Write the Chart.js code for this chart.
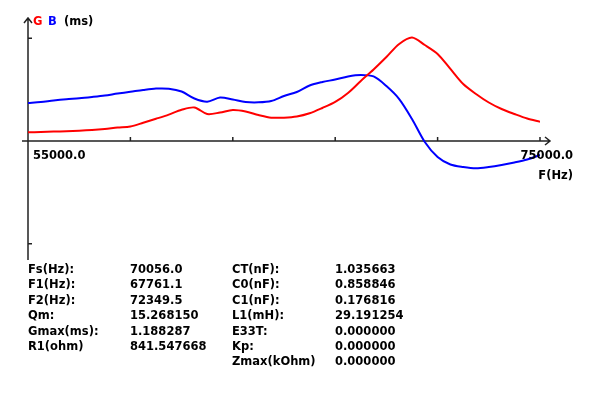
<!DOCTYPE html>
<html>
<head>
    <title>G B admittance sweep</title>
    <script src="https://cdn.jsdelivr.net/npm/chart.js"></script>
    <style>
        body {
            background-color: white;
            margin: 0;
        }
        canvas {
            display: block;
        }
    </style>
</head>
<body>
    <canvas id="gbChart" width="592" height="398"></canvas>

    <script>
        // frequency points (Hz)
        const freqs = [
            55000, 55500, 56000, 56500, 57000, 57500, 58000, 58500, 59000, 59500,
            60000, 60500, 61000, 61500, 62000, 62500, 63000, 63500, 64000, 64500,
            65000, 65500, 66000, 66500, 67000, 67500, 68000, 68500, 69000, 69500,
            70000, 70500, 71000, 71500, 72000, 72500, 73000, 73500, 74000, 74500,
            75000
        ];

        // conductance G (ms)
        const gValues = [
            0.100, 0.103, 0.108, 0.113, 0.118, 0.126, 0.138, 0.154, 0.166, 0.209,
            0.255, 0.303, 0.358, 0.385, 0.310, 0.327, 0.356, 0.339, 0.299, 0.268,
            0.268, 0.281, 0.318, 0.379, 0.448, 0.551, 0.689, 0.821, 0.964, 1.114,
            1.188, 1.102, 0.999, 0.827, 0.654, 0.540, 0.442, 0.367, 0.310, 0.258,
            0.222
        ];

        // susceptance B (ms)
        const bValues = [
            0.436, 0.448, 0.465, 0.479, 0.490, 0.505, 0.522, 0.545, 0.565, 0.586,
            0.602, 0.600, 0.568, 0.488, 0.451, 0.499, 0.476, 0.448, 0.444, 0.459,
            0.517, 0.563, 0.637, 0.677, 0.706, 0.741, 0.758, 0.741, 0.631, 0.482,
            0.253, -0.011, -0.184, -0.270, -0.299, -0.313, -0.299, -0.276, -0.247, -0.212,
            -0.161
        ];

        const xTicks = [59000, 63000, 67000, 71000, 75000];
        const yTicks = [1.18, -1.18];

        const leftLabels = ['Fs(Hz):', 'F1(Hz):', 'F2(Hz):', 'Qm:', 'Gmax(ms):', 'R1(ohm)'];
        const leftValues = ['70056.0', '67761.1', '72349.5', '15.268150', '1.188287', '841.547668'];
        const rightLabels = ['CT(nF):', 'C0(nF):', 'C1(nF):', 'L1(mH):', 'E33T:', 'Kp:', 'Zmax(kOhm)'];
        const rightValues = ['1.035663', '0.858846', '0.176816', '29.191254', '0.000000', '0.000000', '0.000000'];

        const FONT = 'bold 11.5px "DejaVu Sans"';

        const axesPlugin = {
            id: 'axesPlugin',
            beforeDatasetsDraw(chart) {
                const ctx = chart.ctx;
                const xs = chart.scales.x;
                const ys = chart.scales.y;
                const x0 = xs.getPixelForValue(55000);
                const y0 = ys.getPixelForValue(0);
                const xEnd = xs.getPixelForValue(75000);
                ctx.save();
                ctx.strokeStyle = '#222';
                ctx.lineWidth = 1.5;
                ctx.beginPath();
                // x axis + arrow
                ctx.moveTo(x0 - 6, y0);
                ctx.lineTo(xEnd + 10, y0);
                ctx.moveTo(xEnd + 5, y0 - 4);
                ctx.lineTo(xEnd + 10, y0);
                ctx.lineTo(xEnd + 5, y0 + 4);
                // y axis + arrow
                ctx.moveTo(x0, ys.bottom + 2);
                ctx.lineTo(x0, ys.top - 2);
                ctx.moveTo(x0 - 4, ys.top + 3);
                ctx.lineTo(x0, ys.top - 2);
                ctx.lineTo(x0 + 4, ys.top + 3);
                xTicks.forEach(v => {
                    const px = xs.getPixelForValue(v);
                    ctx.moveTo(px, y0);
                    ctx.lineTo(px, y0 - 4);
                });
                yTicks.forEach(v => {
                    const py = ys.getPixelForValue(v);
                    ctx.moveTo(x0, py);
                    ctx.lineTo(x0 + 4, py);
                });
                ctx.stroke();
                ctx.restore();
            },
            afterDraw(chart) {
                const ctx = chart.ctx;
                const xs = chart.scales.x;
                const ys = chart.scales.y;
                const x0 = xs.getPixelForValue(55000);
                const y0 = ys.getPixelForValue(0);
                const xEnd = xs.getPixelForValue(75000);
                ctx.save();
                ctx.font = FONT;
                ctx.textBaseline = 'alphabetic';
                ctx.fillStyle = 'red';
                ctx.fillText('G', x0 + 5, ys.top + 5);
                ctx.fillStyle = 'blue';
                ctx.fillText('B', x0 + 20, ys.top + 5);
                ctx.fillStyle = 'black';
                ctx.fillText('(ms)', x0 + 36, ys.top + 5);

                ctx.fillText('55000.0', x0 + 5, y0 + 18);
                ctx.textAlign = 'right';
                ctx.fillText('75000.0', xEnd + 33, y0 + 18);
                ctx.fillText('F(Hz)', xEnd + 33, y0 + 38);

                ctx.textAlign = 'left';
                const rowTop = 273;
                const rowStep = 15.4;
                leftLabels.forEach((t, i) => {
                    ctx.fillText(t, 28, rowTop + i * rowStep);
                    ctx.fillText(leftValues[i], 130, rowTop + i * rowStep);
                });
                rightLabels.forEach((t, i) => {
                    ctx.fillText(t, 232, rowTop + i * rowStep);
                    ctx.fillText(rightValues[i], 335, rowTop + i * rowStep);
                });
                ctx.restore();
            }
        };

        const ctx = document.getElementById('gbChart').getContext('2d');
        new Chart(ctx, {
            type: 'line',
            data: {
                datasets: [
                    {
                        label: 'G',
                        data: freqs.map((f, i) => ({ x: f, y: gValues[i] })),
                        borderColor: 'red',
                        borderWidth: 2,
                        pointRadius: 0,
                        tension: 0.3,
                        fill: false
                    },
                    {
                        label: 'B',
                        data: freqs.map((f, i) => ({ x: f, y: bValues[i] })),
                        borderColor: 'blue',
                        borderWidth: 2,
                        pointRadius: 0,
                        tension: 0.3,
                        fill: false
                    }
                ]
            },
            options: {
                responsive: false,
                animation: false,
                devicePixelRatio: 1,
                layout: {
                    padding: { left: 28, right: 52, top: 20, bottom: 140 }
                },
                scales: {
                    x: {
                        type: 'linear',
                        min: 55000,
                        max: 75000,
                        display: false
                    },
                    y: {
                        min: -1.343,
                        max: 1.389,
                        display: false
                    }
                },
                plugins: {
                    legend: { display: false },
                    tooltip: { enabled: false }
                }
            },
            plugins: [axesPlugin]
        });
    </script>
</body>
</html>
